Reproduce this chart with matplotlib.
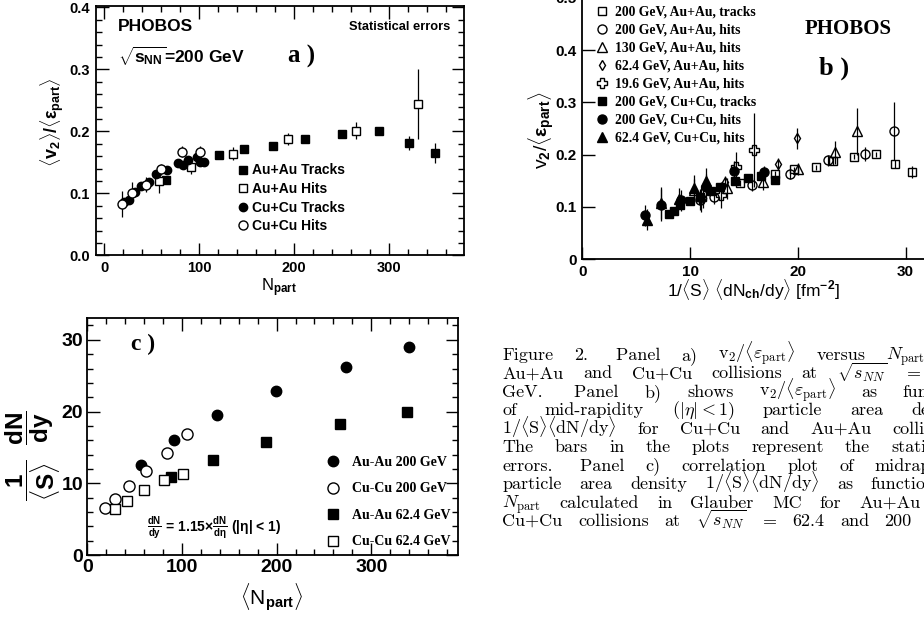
import matplotlib.pyplot as plt
import numpy as np
from matplotlib.ticker import MultipleLocator, FormatStrFormatter, FixedLocator, FixedFormatter

# ---- panel a: v2/eps vs Npart (200 GeV) ----
aaTrkN = [65, 121, 147, 178, 211, 250, 289, 321, 348]
aaTrkV = [0.121, 0.161, 0.171, 0.176, 0.188, 0.195, 0.200, 0.181, 0.165]
aaTrkE = [0.005, 0.004, 0.004, 0.004, 0.004, 0.005, 0.006, 0.011, 0.016]

aaHitN = [58, 91, 136, 194, 265, 331]
aaHitV = [0.120, 0.142, 0.164, 0.188, 0.201, 0.244]
aaHitE = [0.019, 0.011, 0.010, 0.010, 0.014, 0.056]

cuTrkN = [21, 26, 32, 39, 47, 55, 66, 78, 83, 88, 98, 101, 105]
cuTrkV = [0.086, 0.090, 0.102, 0.112, 0.119, 0.131, 0.137, 0.149, 0.146, 0.154, 0.159, 0.150, 0.151]
cuTrkE = [0.006, 0.006, 0.006, 0.006, 0.006, 0.006, 0.006, 0.006, 0.006, 0.006, 0.006, 0.006, 0.006]

cuHitN = [19, 29, 44, 60, 82, 101]
cuHitV = [0.083, 0.101, 0.114, 0.139, 0.167, 0.167]
cuHitE = [0.021, 0.017, 0.012, 0.009, 0.009, 0.009]

# ---- panel b: v2/eps vs 1/S dN/dy ----
bAu200TrkX = [14.6, 17.9, 19.6, 21.7, 23.3, 25.2, 27.2, 29.0, 30.6]
bAu200TrkV = [0.146, 0.163, 0.172, 0.176, 0.188, 0.196, 0.201, 0.182, 0.167]
bAu200TrkE = [0.005, 0.005, 0.005, 0.005, 0.008, 0.005, 0.005, 0.008, 0.012]

bAu200HitX = [10.9, 12.2, 15.7, 19.3, 22.8, 26.2, 28.9]
bAu200HitV = [0.114, 0.120, 0.143, 0.163, 0.189, 0.201, 0.245]
bAu200HitE = [0.020, 0.015, 0.012, 0.010, 0.010, 0.013, 0.055]

bAu130HitX = [10.4, 13.4, 16.8, 20.0, 23.4, 25.5]
bAu130HitV = [0.133, 0.136, 0.148, 0.173, 0.205, 0.245]
bAu130HitE = [0.020, 0.020, 0.015, 0.012, 0.022, 0.045]

bAu62HitX = [11.2, 13.2, 18.2, 19.9]
bAu62HitV = [0.118, 0.147, 0.182, 0.231]
bAu62HitE = [0.020, 0.012, 0.012, 0.020]

bAu19HitX = [11.0, 12.9, 14.3, 15.9]
bAu19HitV = [0.116, 0.123, 0.176, 0.209]
bAu19HitE = [0.025, 0.025, 0.030, 0.070]

bCu200TrkX = [8.0, 8.5, 9.1, 10.0, 10.9, 11.9, 12.8, 14.2, 15.4, 16.6, 17.9]
bCu200TrkV = [0.086, 0.092, 0.104, 0.111, 0.119, 0.131, 0.138, 0.149, 0.155, 0.159, 0.152]
bCu200TrkE = [0.005, 0.005, 0.005, 0.005, 0.005, 0.005, 0.005, 0.005, 0.005, 0.005, 0.005]

bCu200HitX = [5.8, 7.3, 9.2, 11.5, 14.1, 16.9]
bCu200HitV = [0.084, 0.104, 0.113, 0.139, 0.168, 0.167]
bCu200HitE = [0.020, 0.030, 0.020, 0.025, 0.020, 0.012]

bCu62HitX = [6.0, 7.3, 9.0, 10.4, 11.5]
bCu62HitV = [0.076, 0.108, 0.116, 0.137, 0.150]
bCu62HitE = [0.020, 0.030, 0.020, 0.025, 0.025]

# ---- panel c: 1/S dN/dy vs Npart ----
cAu200N = [56.4, 91.3, 136.8, 199.2, 273.2, 340.1]
cAu200D = [12.56, 16.09, 19.49, 22.88, 26.28, 29.02]
cCu200N = [18.7, 29.6, 44.1, 62.0, 84.6, 105.0]
cCu200D = [6.51, 7.86, 9.67, 11.72, 14.19, 16.88]
cAu62N = [88.5, 133.2, 188.6, 267.2, 337.7]
cAu62D = [10.93, 13.26, 15.77, 18.28, 19.95]
cCu62N = [29.3, 42.3, 59.9, 81.1, 101.5]
cCu62D = [6.37, 7.53, 9.07, 10.47, 11.30]

caption = [
  ["Figure", "2.", " Panel", "a)", r"v$_2$/$\langle\varepsilon_{\rm part}\rangle$", "versus", r"$N_{\rm part}$", "for"],
  ["Au+Au", "and", "Cu+Cu", "collisions", "at", r"$\sqrt{s_{NN}}$", "=", "200"],
  ["GeV.", " Panel", "b)", "shows", r"v$_2$/$\langle\varepsilon_{\rm part}\rangle$", "as", "function"],
  ["of", "mid-rapidity", r"($|\eta| < 1$)", "particle", "area", "density"],
  [r"1/$\langle$S$\rangle\langle$dN/dy$\rangle$", "for", "Cu+Cu", "and", "Au+Au", "collisions."],
  ["The", "bars", "in", "the", "plots", "represent", "the", "statistical"],
  ["errors.", " Panel", "c)", "correlation", "plot", "of", "midrapidity"],
  ["particle", "area", "density", r"1/$\langle$S$\rangle\langle$dN/dy$\rangle$", "as", "function", "of"],
  [r"$N_{\rm part}$", "calculated", "in", "Glauber", "MC", "for", "Au+Au", "and"],
  ["Cu+Cu", "collisions", "at", r"$\sqrt{s_{NN}}$", "=", "62.4", "and", "200", "GeV."],
]

plt.rcParams['font.family'] = 'Liberation Sans'
plt.rcParams['font.weight'] = 'bold'
plt.rcParams['mathtext.fontset'] = 'custom'
plt.rcParams['mathtext.rm'] = 'Liberation Sans:bold'
plt.rcParams['mathtext.it'] = 'Liberation Sans:bold'
plt.rcParams['mathtext.bf'] = 'Liberation Sans:bold'
plt.rcParams['mathtext.sf'] = 'Liberation Sans:bold'
plt.rcParams['axes.linewidth'] = 1.3

W, H = 924, 619
fig = plt.figure(figsize=(W/100, H/100), dpi=100)

def box(left, top, right, bottom):
  return [left/W, 1-bottom/H, (right-left)/W, (bottom-top)/H]

axA = fig.add_axes(box(95.7, 5.7, 464, 255.3))
axB = fig.add_axes(box(582.3, -2.2, 948.8, 259.3))
axC = fig.add_axes(box(87.3, 318.3, 458.3, 555))

serif = 'Liberation Serif'
ebkw = dict(fmt='none', ecolor='k', elinewidth=0.9, capsize=0, zorder=2)

# ---------------- panel a ----------------
axA.errorbar(aaTrkN, aaTrkV, yerr=aaTrkE, **ebkw)
axA.errorbar(aaHitN, aaHitV, yerr=aaHitE, **ebkw)
axA.errorbar(cuTrkN, cuTrkV, yerr=cuTrkE, **ebkw)
axA.errorbar(cuHitN, cuHitV, yerr=cuHitE, **ebkw)
axA.plot(aaTrkN, aaTrkV, 's', color='k', ms=5.5, label='Au+Au Tracks', zorder=3)
axA.plot(aaHitN, aaHitV, 's', color='k', mfc='white', ms=6, mew=1, label='Au+Au Hits', zorder=3)
axA.plot(cuTrkN, cuTrkV, 'o', color='k', ms=6, label='Cu+Cu Tracks', zorder=3)
axA.plot(cuHitN, cuHitV, 'o', color='k', mfc='white', ms=6.5, mew=1, label='Cu+Cu Hits', zorder=4)
axA.set_xlim(-9, 379)
axA.set_ylim(0, 0.4026)
axA.xaxis.set_major_locator(MultipleLocator(100))
axA.xaxis.set_minor_locator(MultipleLocator(20))
axA.yaxis.set_major_locator(MultipleLocator(0.1))
axA.yaxis.set_minor_locator(MultipleLocator(0.02))
axA.yaxis.set_major_formatter(FormatStrFormatter('%.1f'))
axA.tick_params(which='both', direction='in', top=True, right=True, labelsize=10.5, pad=4)
axA.tick_params(which='major', length=9, width=1)
axA.tick_params(which='minor', length=4.5, width=1)
axA.set_xlabel(r'N$_{\rm part}$', fontsize=12)
axA.xaxis.set_label_coords(0.498, -0.131)
axA.xaxis.label.set_va('center')
axA.set_ylabel(r'$\langle v_2\rangle/\langle\varepsilon_{part}\rangle$', fontsize=13)
axA.yaxis.set_label_coords(-0.119, 0.534)
axA.yaxis.label.set_va('center')
axA.text(14, 0.369, 'PHOBOS', fontsize=12.5, va='center')
axA.text(364.6, 0.369, 'Statistical errors', fontsize=9.3, va='center', ha='right')
axA.text(14.7, 0.321, r'$\sqrt{s_{NN}}$=200 GeV', fontsize=12.5, va='center')
axA.text(208, 0.320, 'a )', family=serif, fontsize=18, va='center', ha='center')
axA.legend(loc='upper left', bbox_to_anchor=(0.386, 0.368), frameon=False, fontsize=10,
           borderpad=0, borderaxespad=0, handlelength=0.7, handletextpad=0.3, labelspacing=0.33)

# ---------------- panel b ----------------
bSeries = [
  (bAu200TrkX, bAu200TrkV, bAu200TrkE, 's', 'none', 6, '200 GeV, Au+Au, tracks'),
  (bAu200HitX, bAu200HitV, bAu200HitE, 'o', 'none', 6.5, '200 GeV, Au+Au, hits'),
  (bAu130HitX, bAu130HitV, bAu130HitE, '^', 'none', 6.5, '130 GeV, Au+Au, hits'),
  (bAu62HitX, bAu62HitV, bAu62HitE, 'd', 'none', 5.5, '62.4 GeV, Au+Au, hits'),
  (bAu19HitX, bAu19HitV, bAu19HitE, 'P', 'none', 7, '19.6 GeV, Au+Au, hits'),
  (bCu200TrkX, bCu200TrkV, bCu200TrkE, 's', 'k', 6, '200 GeV, Cu+Cu, tracks'),
  (bCu200HitX, bCu200HitV, bCu200HitE, 'o', 'k', 6.5, '200 GeV, Cu+Cu, hits'),
  (bCu62HitX, bCu62HitV, bCu62HitE, '^', 'k', 6.5, '62.4 GeV, Cu+Cu, hits'),
]
for x, v, e, m, fc, ms, lab in bSeries:
  axB.errorbar(x, v, yerr=e, **ebkw)
  axB.plot(x, v, m, color='k', mfc=fc, ms=ms, mew=1, label=lab, zorder=3)
axB.set_xlim(0, 34)
axB.set_ylim(0, 0.5)
axB.xaxis.set_major_locator(MultipleLocator(10))
axB.yaxis.set_major_locator(FixedLocator([0, 0.1, 0.2, 0.3, 0.4, 0.5]))
axB.yaxis.set_major_formatter(FixedFormatter(['0', '0.1', '0.2', '0.3', '0.4', '0.5']))
axB.tick_params(which='major', direction='in', length=9, width=1, labelsize=11, pad=4)
axB.set_xlabel(r'1/$\langle$S$\rangle$ $\langle$dN$_{ch}$/dy$\rangle$ [fm$^{-2}$]', fontsize=12.5)
axB.xaxis.set_label_coords(0.467, -0.117)
axB.xaxis.label.set_va('center')
axB.set_ylabel(r'v$_2$/$\langle\varepsilon_{part}\rangle$', fontsize=14)
axB.yaxis.set_label_coords(-0.112, 0.494)
axB.yaxis.label.set_va('center')
axB.text(24.7, 0.44, 'PHOBOS', family=serif, fontsize=15, va='center', ha='center')
axB.text(23.4, 0.365, 'b )', family=serif, fontsize=19, va='center', ha='center')
axB.legend(loc='upper left', bbox_to_anchor=((597-582.3)/366.5, (259.3-6)/261.5), frameon=False,
           prop={'family': serif, 'weight': 'bold', 'size': 9.8},
           borderpad=0, borderaxespad=0, handlelength=0.8, handletextpad=0.5, labelspacing=0.36)

# ---------------- panel c ----------------
axC.plot(cAu200N, cAu200D, 'o', color='k', ms=7.5, label='Au-Au 200 GeV', zorder=3)
axC.plot(cCu200N, cCu200D, 'o', color='k', mfc='white', ms=8, mew=1, label='Cu-Cu 200 GeV', zorder=3)
axC.plot(cAu62N, cAu62D, 's', color='k', ms=7.5, label='Au-Au 62.4 GeV', zorder=3)
axC.plot(cCu62N, cCu62D, 's', color='k', mfc='white', ms=7.5, mew=1, label='Cu-Cu 62.4 GeV', zorder=3)
axC.set_xlim(0, 392)
axC.set_ylim(0, 33)
axC.xaxis.set_major_locator(MultipleLocator(100))
axC.xaxis.set_minor_locator(MultipleLocator(20))
axC.yaxis.set_major_locator(MultipleLocator(10))
axC.yaxis.set_minor_locator(MultipleLocator(2))
axC.tick_params(which='both', direction='in', top=True, right=True, labelsize=14, pad=3)
axC.tick_params(which='major', length=9, width=1)
axC.tick_params(which='minor', length=4.5, width=1)
axC.set_xlabel(r'$\langle$N$_{part}\rangle$', fontsize=15)
axC.xaxis.set_label_coords(0.497, -0.176)
axC.xaxis.label.set_va('center')
axC.set_ylabel(r'$\dfrac{1}{\langle S\rangle}\ \ \dfrac{dN}{dy}$', fontsize=17.5)
axC.yaxis.set_label_coords(-0.146, 0.42)
axC.yaxis.label.set_va('center')
axC.text(59.2, 29.3, 'c )', family=serif, fontsize=17, va='center', ha='center')
axC.text(62.8, 3.72, r'$\frac{dN}{dy}$ = 1.15$\times\frac{dN}{d\eta}$ (|$\eta$| < 1)', fontsize=10, va='center')
axC.legend(loc='upper left', bbox_to_anchor=((326-87.3)/371, (555-456)/236.7), frameon=False,
           prop={'family': serif, 'weight': 'bold', 'size': 10},
           borderpad=0, borderaxespad=0, handlelength=1.0, handletextpad=0.85, labelspacing=0.97)

# ---------------- caption (justified, cut at the right) ----------------
renderer = fig.canvas.get_renderer()
x0, x1 = 502.3, 968
for i, words in enumerate(caption):
  yb = 1 - (360 + 18.44*i)/H
  texts = [fig.text(0, yb, w, fontsize=13, family='cmr10', weight='normal', math_fontfamily='cm', va='baseline')
           for w in words]
  widths = [t.get_window_extent(renderer).width for t in texts]
  gap = (x1 - x0 - sum(widths)) / (len(words) - 1)
  x = x0
  for t, w in zip(texts, widths):
    t.set_x(x/W)
    x += w + gap

fig.savefig('out.png', dpi=100)
